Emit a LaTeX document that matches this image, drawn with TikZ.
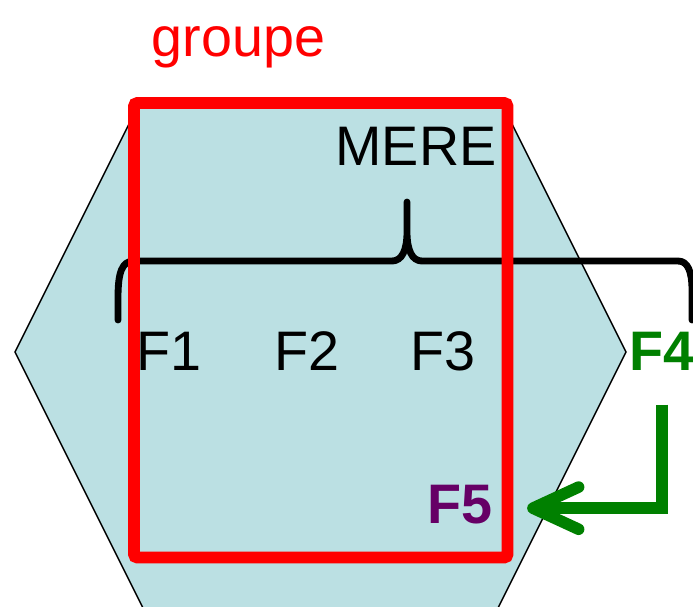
\documentclass[tikz,border=0pt]{standalone}
\usepackage{fontspec}
\setmainfont{Liberation Sans}
\usetikzlibrary{arrows.meta, positioning}
\definecolor{hexfill}{HTML}{BBE0E3}
\definecolor{grp}{HTML}{FF0000}
\definecolor{fgreen}{HTML}{008000}
\definecolor{fpurple}{HTML}{660066}
\tikzset{
  big/.style={font=\fontsize{31.7}{38}\selectfont, inner sep=2pt, anchor=base},
  fil/.style={big, text=black},
  filb/.style={big, font=\fontsize{31.7}{38}\selectfont\bfseries},
  %
  hex/.style={fill=hexfill, draw=black, line width=0.85pt},
  grpbox/.style={draw=grp, line width=6.8pt, rounded corners=2pt},
  brace/.style={draw=black, line width=3.9pt, line cap=round, line join=round},
  move/.style={draw=fgreen, line width=6.6pt,
               -{Straight Barb[length=26pt, width=24pt, line cap=round, line join=round]}},
}
\begin{document}
\begin{tikzpicture}[x=0.02cm, y=-0.02cm]
  \useasboundingbox (0,0) rectangle (693,606);
  \clip (0,0) rectangle (693,606);

  % the family cell
  \draw[hex] (15,352) -- (139.5,103) -- (501.5,103) -- (626,352)
    -- (494.5,615) -- (146.5,615) -- cycle;

  % brace over the children
  \draw[brace] (118,320) -- (118,298) .. controls (118,272) and (122,261) .. (134,261)
    -- (392,261) .. controls (402,261) and (407,250) .. (407,232) -- (407,202)
    (407,232) .. controls (407,250) and (412,261) .. (422,261)
    -- (678,261) .. controls (688,261) and (692,272) .. (692,290) -- (692,320);

  \node[big, text=grp] (grp) at (238.5,56) {groupe};
  \node[fil] (mere) at (416,165) {MERE};

  \foreach \i/\x in {1/168.5, 2/307, 3/442.5} {
    \node[fil] (f\i) at (\x,370) {F\i};
  }
  \node[filb, text=fgreen] (f4) at (662,370) {F4};
  \node[filb, text=fpurple] (f5) at (460,523) {F5};

  % the group
  \draw[grpbox] (134,103) rectangle (507.5,557.5);

  % F4 moves in
  \draw[move, shorten <=17.5pt, shorten >=17.5pt] (f4.south) |- ([yshift=-2.3pt]f5.east);

\end{tikzpicture}
\end{document}
